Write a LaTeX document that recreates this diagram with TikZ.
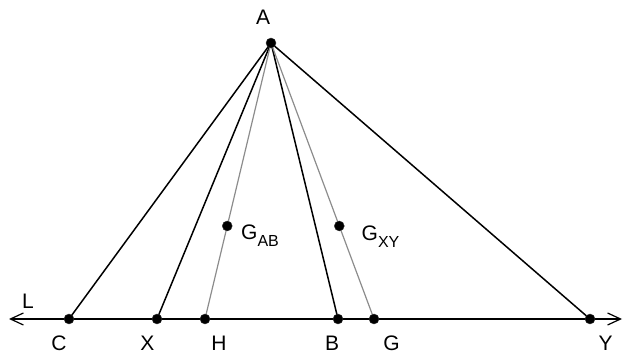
\documentclass[tikz,border=0pt]{standalone}
\usepackage{fontspec}
\setmainfont{Liberation Sans}
\usetikzlibrary{positioning,arrows.meta,calc}

\newcommand{\subtxt}[1]{\raisebox{-7pt}{\fontsize{16}{16}\selectfont #1}}

\begin{document}
\begin{tikzpicture}[
  x=1pt, y=1pt,
  font=\fontsize{21}{24}\selectfont,
  dot/.style={circle, fill=black, draw=black!80, inner sep=0pt, minimum size=10pt},
  lbl/.style={anchor=base, inner sep=0pt},
  side/.style={line width=1.5pt, black},
  median/.style={line width=1.2pt, black!45},
  lineL/.style={line width=1.5pt, black, {Straight Barb[length=13pt,width=12pt,line width=1.2pt]}-{Straight Barb[length=13pt,width=12pt,line width=1.2pt]}}
]
\useasboundingbox (0,0) rectangle (623,358);

% ---------- points ----------
\coordinate (A) at (271,315);
\coordinate (C) at (69,39);
\coordinate (X) at (157,39);
\coordinate (H) at (205,39);
\coordinate (B) at (338,39);
\coordinate (G) at (374,39);
\coordinate (Y) at (590,39);
\coordinate (Lw) at (9,39);
\coordinate (Le) at (622,39);
\coordinate (Gab) at ($(A)!0.663!(H)$);
\coordinate (Gxy) at ($(A)!0.663!(G)$);

% ---------- line L ----------
\draw[lineL] (Lw) -- (Le);

% ---------- segments from A ----------
\draw[side] (A) -- (C);
\draw[side] (A) -- (X);
\draw[side] (A) -- (B);
\draw[side] (A) -- (Y);
\draw[median] (A) -- (H);
\draw[median] (A) -- (G);

% ---------- dots ----------
\foreach \p in {A,C,X,H,B,G,Y,Gab,Gxy}
  \node[dot] (d\p) at (\p) {};

% ---------- labels ----------
\node[lbl] (lA) at ($(A)+(-8,18)$) {A};
\node[lbl] (lL) at (28,49.5) {L};
\node[lbl] (lC) at ($(C)+(-10,-32)$) {C};
\node[lbl] (lX) at ($(X)+(-9.5,-32)$) {X};
\node[lbl] (lH) at ($(H)+(14,-32)$) {H};
\node[lbl] (lB) at ($(B)+(-6,-32)$) {B};
\node[lbl] (lG) at ($(G)+(17.5,-32)$) {G};
\node[lbl] (lY) at ($(Y)+(15.5,-32)$) {Y};
\node[lbl, anchor=base west] (lGab) at (241,118.5) {G\subtxt{AB}};
\node[lbl, anchor=base west] (lGxy) at (361.5,117) {G\subtxt{XY}};

\end{tikzpicture}
\end{document}
